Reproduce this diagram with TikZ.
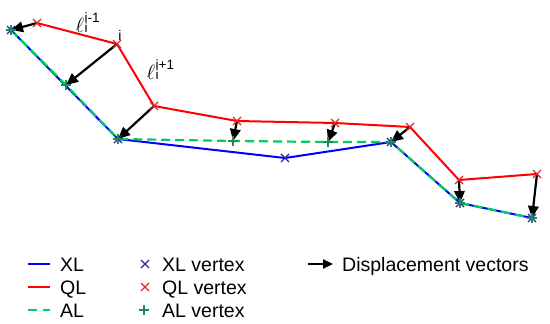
\documentclass[tikz,border=0pt]{standalone}
\usepackage{fontspec}
\setmainfont{Liberation Sans}
\usetikzlibrary{arrows.meta}
\definecolor{xlblue}{RGB}{0,0,255}
\definecolor{qlred}{RGB}{255,0,0}
\definecolor{algreen}{RGB}{0,204,102}
\definecolor{xlmark}{RGB}{40,40,160}
\definecolor{qlmark}{RGB}{225,40,40}
\definecolor{almark}{RGB}{30,140,90}
\newcommand{\elllabel}[2]{{\fontsize{20}{20}\selectfont$\ell$}\kern0.5pt{\fontsize{13.5}{10}\selectfont\vbox{\hbox{#1}\hbox{#2}}}}
\tikzset{
  xlline/.style={xlblue, line width=2pt},
  qlline/.style={qlred, line width=2pt},
  alline/.style={algreen, line width=2.2pt, dash pattern=on 9pt off 5pt},
  disp/.style={black, line width=2.2pt, -{Triangle[length=12pt,width=10.5pt]}},
  crossmk/.pic={\draw[line width=1.1pt] (-4pt,-4pt)--(4pt,4pt) (-4pt,4pt)--(4pt,-4pt);},
  plusmk/.pic={\draw[line width=1.1pt] (-5pt,0)--(5pt,0) (0,-5pt)--(0,5pt);},
  legtext/.style={anchor=base west, inner sep=0pt, font=\fontsize{19.5}{21}\selectfont},
  elltext/.style={anchor=base west, inner sep=0pt},
}
\begin{document}
\begin{tikzpicture}[x=1pt,y=-1pt]
\useasboundingbox[fill=white] (0,0) rectangle (550,324);
% XL vertices
\coordinate (X1) at (11,30);
\coordinate (X2) at (118,139);
\coordinate (X3) at (285,158);
\coordinate (X4) at (391,142);
\coordinate (X5) at (460,203);
\coordinate (X6) at (532,218);
% AL vertices
\coordinate (A2) at (66,85);
\coordinate (A4) at (233,141);
\coordinate (A5) at (328,142);
% QL vertices
\coordinate (Q1) at (37,23);
\coordinate (Q2) at (117,44);
\coordinate (Q3) at (154,106);
\coordinate (Q4) at (237,121);
\coordinate (Q5) at (335,123);
\coordinate (Q6) at (410,127);
\coordinate (Q7) at (459,180);
\coordinate (Q8) at (537,174);
% lines
\draw[xlline] (X1) -- (X2) -- (X3) -- (X4) -- (X5) -- (X6);
\draw[alline] (X1) -- (A2) -- (X2) -- (A4) -- (A5) -- (X4) -- (X5) -- (X6);
\draw[qlline] (Q1) -- (Q2) -- (Q3) -- (Q4) -- (Q5) -- (Q6) -- (Q7) -- (Q8);
% displacement vectors
\draw[disp] (Q1) -- (X1);
\draw[disp] (Q2) -- (A2);
\draw[disp] (Q3) -- (X2);
\draw[disp] (Q4) -- (A4);
\draw[disp] (Q5) -- (A5);
\draw[disp] (Q6) -- (X4);
\draw[disp] (Q7) -- (X5);
\draw[disp] (Q8) -- (X6);
% markers
\foreach \p in {X1,X2,X3,X4,X5,X6} \pic[xlmark] at (\p) {crossmk};
\foreach \p in {Q1,Q2,Q3,Q4,Q5,Q6,Q7,Q8} \pic[qlmark] at (\p) {crossmk};
\foreach \p in {X1,A2,X2,A4,A5,X4,X5,X6} \pic[almark] at (\p) {plusmk};
% labels
\node[elltext] (lbla) at (75.5,32) {\elllabel{i-1}{i}};
\node[elltext] (lblb) at (146.5,79) {\elllabel{i+1}{i}};
\node[anchor=base, inner sep=0pt, font=\fontsize{14}{14}\selectfont] (ilbl) at (120,40) {i};
% legend
\coordinate (L1a) at (28,264); \coordinate (L1b) at (50,264);
\coordinate (L2a) at (28,287); \coordinate (L2b) at (50,287);
\coordinate (L3a) at (28,310); \coordinate (L3b) at (50,310);
\draw[xlline] (L1a) -- (L1b);
\draw[qlline] (L2a) -- (L2b);
\draw[algreen, line width=2.2pt, dash pattern=on 9pt off 6pt] (L3a) -- (L3b);
\node[legtext] (t1) at (60,271) {XL};
\node[legtext] (t2) at (60,294) {QL};
\node[legtext] (t3) at (60,317) {AL};
\coordinate (M1) at (145,264);
\coordinate (M2) at (145,287);
\coordinate (M3) at (144,310);
\pic[xlmark] at (M1) {crossmk};
\pic[qlmark] at (M2) {crossmk};
\pic[almark] at (M3) {plusmk};
\node[legtext] (t4) at (162,271) {XL vertex};
\node[legtext] (t5) at (162,294) {QL vertex};
\node[legtext] (t6) at (162,317) {AL vertex};
\coordinate (Da) at (308,264); \coordinate (Db) at (333,264);
\draw[black, line width=2pt, -{Triangle[length=10pt,width=9pt]}] (Da) -- (Db);
\node[legtext] (t7) at (342,271) {Displacement vectors};
\end{tikzpicture}
\end{document}
